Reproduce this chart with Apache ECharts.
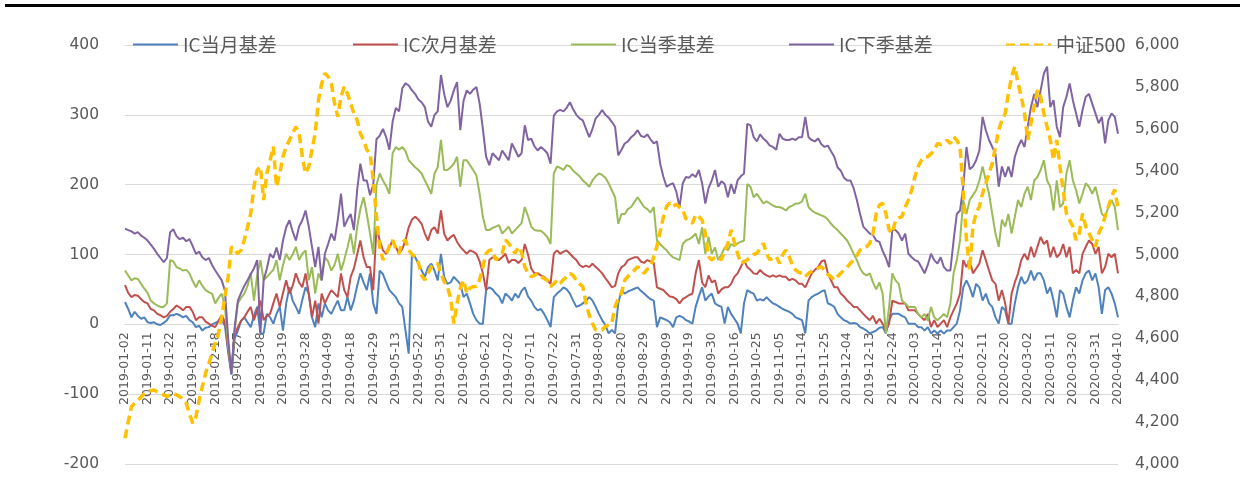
<!DOCTYPE html>
<html>
<head>
<meta charset="utf-8">
<script src="https://cdn.jsdelivr.net/npm/echarts@6/dist/echarts.min.js"></script>
<style>
  html, body { margin: 0; padding: 0; background: #fff; }
  #chart { width: 1244px; height: 482px; }
</style>
</head>
<body>
<div id="chart"></div>
<script>
// Trading calendar: months and the trading days in each
const tradingMonths = ['2019-01','2019-02','2019-03','2019-04','2019-05','2019-06','2019-07','2019-08','2019-09','2019-10','2019-11','2019-12','2020-01','2020-02','2020-03','2020-04'];
const tradingDays = [
  [2,3,4,7,8,9,10,11,14,15,16,17,18,21,22,23,24,25,28,29,30,31],
  [1,11,12,13,14,15,18,19,20,21,22,25,26,27,28],
  [1,4,5,6,7,8,11,12,13,14,15,18,19,20,21,22,25,26,27,28,29],
  [1,2,3,4,8,9,10,11,12,15,16,17,18,19,22,23,24,25,26,29,30],
  [6,7,8,9,10,13,14,15,16,17,20,21,22,23,24,27,28,29,30,31],
  [3,4,5,6,10,11,12,13,14,17,18,19,20,21,24,25,26,27,28],
  [1,2,3,4,5,8,9,10,11,12,15,16,17,18,19,22,23,24,25,26,29,30,31],
  [1,2,5,6,7,8,9,12,13,14,15,16,19,20,21,22,23,26,27,28,29,30],
  [2,3,4,5,6,9,10,11,12,16,17,18,19,20,23,24,25,26,27,30],
  [8,9,10,11,14,15,16,17,18,21,22,23,24,25,28,29,30,31],
  [1,4,5,6,7,8,11,12,13,14,15,18,19,20,21,22,25,26,27,28,29],
  [2,3,4,5,6,9,10,11,12,13,16,17,18,19,20,23,24,25,26,27,30,31],
  [2,3,6,7,8,9,10,13,14,15,16,17,20,21,22,23],
  [3,4,5,6,7,10,11,12,13,14,17,18,19,20,21,24,25,26,27,28],
  [2,3,4,5,6,9,10,11,12,13,16,17,18,19,20,23,24,25,26,27,30,31],
  [1,2,3,7,8,9,10]
];

const seriesNames = ['IC当月基差', 'IC次月基差', 'IC当季基差', 'IC下季基差', '中证500'];

// IC current-month basis
const icMonth = [
  32,22,10,18,12,8,10,3,2,3,
  0,-1,2,6,13,13,15,13,10,12,
  6,3,-4,-2,-9,-5,-4,0,2,4,
  6,-2,-40,-72,-20,-9,5,10,3,-4,
  12,25,-13,-13,15,10,1,15,25,-9,
  30,53,34,25,15,35,53,44,10,-4,
  30,10,30,20,15,25,34,20,20,39,
  20,34,55,73,60,49,73,30,15,77,
  72,60,49,44,39,30,25,-9,-42,101,
  96,87,77,68,82,87,77,63,101,68,
  58,60,68,63,58,39,44,30,15,6,
  1,1,49,53,50,44,40,30,44,40,
  34,44,38,48,53,40,34,25,20,22,
  15,6,-4,39,44,48,53,50,44,34,
  25,27,30,34,39,34,25,15,6,-1,
  -13,-8,-13,30,49,44,47,49,51,53,
  48,44,40,36,34,-4,10,8,6,3,
  -4,10,12,10,6,4,1,25,40,53,
  34,40,44,30,27,25,1,25,15,8,
  1,-13,30,49,46,44,34,36,34,39,
  34,30,28,25,22,20,18,15,10,8,
  6,-13,34,39,42,44,47,49,30,28,
  25,15,10,6,4,1,2,1,-4,-6,
  -9,-13,-11,-9,-5,-4,-13,6,15,15,
  15,12,10,1,1,1,-4,-4,-9,-4,
  -13,-9,-13,-9,-13,-9,-9,-4,1,20,
  53,63,53,39,58,53,34,44,30,25,
  10,1,25,20,1,1,30,53,68,58,
  63,77,63,73,73,63,44,53,34,10,
  49,44,25,10,34,53,44,63,73,77,
  63,73,53,15,49,53,44,30,10
];

// IC next-month basis
const icNextMonth = [
  56,45,39,42,41,36,32,30,22,20,
  15,13,10,12,18,22,27,24,20,25,
  25,18,6,10,10,4,1,-2,-4,5,
  13,3,-35,-68,-15,-4,5,10,18,25,
  6,20,34,6,12,15,30,44,25,45,
  63,44,55,73,60,53,73,44,10,34,
  1,44,30,40,49,44,39,73,49,39,
  68,80,100,120,96,82,82,49,139,120,
  106,101,110,120,111,101,108,120,139,150,
  154,150,144,130,120,135,139,130,163,130,
  120,125,128,118,111,106,101,106,104,101,
  90,73,49,92,96,94,92,96,101,88,
  92,92,88,92,115,100,80,73,73,70,
  68,63,58,101,106,101,104,106,101,96,
  92,85,82,84,82,87,82,78,73,66,
  60,53,55,73,82,85,92,94,96,96,
  90,88,92,90,88,53,51,49,44,40,
  39,36,30,36,39,42,44,73,92,60,
  53,70,60,63,44,50,53,53,58,68,
  73,82,92,82,78,73,72,78,73,70,
  68,70,68,70,68,68,63,65,63,58,
  58,53,63,73,78,82,90,92,73,63,
  53,53,44,40,34,30,25,25,20,15,
  10,6,12,1,8,1,-9,1,34,32,
  30,30,30,20,20,20,15,10,6,15,
  -4,6,-4,1,6,-4,10,20,30,44,
  92,82,92,73,80,87,106,92,77,63,
  58,34,49,30,1,44,60,73,92,101,
  92,111,96,111,125,115,120,96,111,96,
  101,115,96,111,73,78,73,101,111,120,
  115,101,111,73,82,101,96,101,73
];

// IC current-quarter basis
const icQuarter = [
  77,70,63,66,65,58,51,45,34,30,
  27,25,25,30,92,90,82,80,77,78,
  73,62,53,63,55,49,46,44,30,38,
  44,25,-30,-68,-10,30,38,44,55,73,
  34,70,92,63,68,73,78,92,63,85,
  101,92,100,111,92,101,106,63,82,44,
  73,63,96,90,77,85,101,77,92,110,
  130,101,139,165,182,158,130,100,200,216,
  206,198,187,245,254,250,254,248,235,230,
  225,221,216,206,197,187,216,225,264,221,
  221,225,230,240,197,235,235,228,221,213,
  187,154,135,135,138,140,142,130,135,140,
  130,135,140,145,168,155,140,135,134,134,
  130,125,115,216,226,224,221,228,226,220,
  216,212,206,202,197,206,212,216,214,210,
  202,192,182,144,158,158,165,168,175,182,
  175,168,165,160,168,120,115,110,106,100,
  96,94,92,115,120,122,125,130,115,139,
  101,125,101,110,92,100,110,106,115,112,
  116,118,120,201,197,182,187,180,173,176,
  173,170,168,168,166,163,168,170,173,173,
  176,187,168,163,160,158,156,154,150,144,
  139,135,130,125,120,111,101,92,80,73,
  70,73,60,50,60,44,-13,25,73,63,
  58,34,30,25,25,25,15,10,15,5,
  25,10,6,10,15,10,30,73,92,120,
  178,158,178,185,192,206,226,206,187,158,
  130,111,150,140,158,130,154,178,168,187,
  197,178,206,211,221,235,206,197,163,206,
  168,173,216,235,206,192,173,187,202,197,
  187,197,178,158,154,168,178,168,135
];

// IC next-quarter basis
const icNextQuarter = [
  137,135,133,130,132,127,124,120,114,108,
  101,95,89,95,132,136,126,122,124,119,
  122,112,101,104,96,92,95,85,77,70,
  63,48,-20,-71,-5,34,45,55,63,72,
  80,92,-13,63,80,101,95,110,92,120,
  139,149,133,120,140,149,163,140,111,82,
  111,63,101,115,130,120,150,187,140,150,
  158,135,192,230,206,206,185,200,265,270,
  280,268,250,290,310,305,338,345,342,335,
  330,322,318,311,290,283,300,305,357,330,
  311,320,335,347,278,320,335,330,336,340,
  316,280,240,228,245,240,235,249,242,235,
  259,250,240,245,285,264,266,255,249,254,
  250,245,230,299,305,307,305,310,318,308,
  300,295,292,280,268,280,295,300,307,300,
  296,290,283,242,250,259,262,268,272,278,
  270,268,272,265,259,262,230,211,197,200,
  202,190,168,202,211,210,215,211,221,202,
  173,195,206,221,197,205,201,182,201,187,
  206,212,216,287,285,268,262,272,266,262,
  256,254,250,273,266,264,264,266,264,268,
  268,297,268,264,262,266,258,254,256,248,
  240,225,220,210,206,206,195,178,158,140,
  135,130,128,120,118,105,95,82,135,135,
  130,120,130,101,96,92,90,82,73,85,
  101,92,87,96,82,77,77,120,158,163,
  197,254,222,226,235,249,297,278,264,254,
  244,197,226,211,226,211,240,254,264,254,
  283,311,330,311,335,359,369,311,321,283,
  268,311,326,345,321,302,283,307,326,330,
  316,302,288,297,259,292,302,297,273
];

// CSI 500 index close (right axis)
const csi500 = [
  4123,4200,4274,4290,4305,4320,4337,4345,4350,4353,
  4345,4337,4330,4321,4330,4337,4330,4321,4310,4290,
  4240,4194,4226,4305,4370,4433,4480,4528,4580,4624,
  4703,4799,4894,5037,5020,5005,5021,5069,5130,5196,
  5324,5403,5419,5260,5387,5450,5515,5324,5387,5467,
  5515,5546,5578,5610,5578,5467,5387,5419,5500,5578,
  5737,5816,5865,5849,5816,5721,5658,5753,5801,5769,
  5721,5673,5642,5578,5546,5500,5483,5356,5181,5037,
  4974,5000,5040,5069,5030,5005,5060,5069,5021,5000,
  4990,4960,4900,4878,4910,4942,4950,4958,4910,4870,
  4847,4790,4671,4767,4840,4878,4815,4840,4847,4847,
  4880,4940,5005,5020,5021,4974,4990,5005,5069,5053,
  5030,5005,5037,5010,4942,4910,4894,4900,4910,4894,
  4885,4878,4847,4860,4878,4862,4880,4894,4910,4900,
  4878,4860,4847,4767,4710,4671,4640,4640,4640,4656,
  4665,4671,4751,4790,4815,4878,4895,4910,4925,4942,
  4925,4910,4930,4942,4990,5040,5110,5180,5230,5246,
  5228,5240,5225,5212,5170,5160,5149,5190,5180,5165,
  5101,4990,4974,4985,4990,4974,5020,5053,5117,5060,
  5005,4958,4965,4974,4990,5000,5005,5030,5053,5005,
  4974,4985,4990,4958,5000,5021,4990,4950,4926,4915,
  4910,4894,4910,4920,4926,4935,4942,4926,4905,4894,
  4878,4895,4910,4926,4940,4958,4974,4995,5021,5030,
  5037,5053,5101,5196,5236,5244,5196,5117,5101,5165,
  5175,5181,5228,5260,5307,5371,5419,5450,5467,5467,
  5480,5499,5530,5525,5530,5546,5530,5562,5546,5515,
  5300,5069,4926,5133,5200,5228,5292,5340,5387,5435,
  5515,5594,5642,5673,5769,5848,5897,5817,5753,5674,
  5546,5626,5706,5785,5753,5674,5610,5547,5451,5547,
  5419,5307,5196,5165,5133,5069,5101,5196,5133,5101,
  5069,5037,5101,5133,5181,5228,5276,5310,5220
];

// Left axis ticks (basis, points) and right axis ticks (index level)
const basisTicks = { min: -200, max: 400, step: 100 };
const indexTicks = { min: 4000, max: 6000, step: 200 };

const dates = [];
tradingMonths.forEach((m, k) => {
  tradingDays[k].forEach(d => dates.push(m + '-' + String(d).padStart(2, '0')));
});

const colors = ['#4F81BD', '#C0504D', '#9BBB59', '#8064A2', '#FFC000'];
const values = [icMonth, icNextMonth, icQuarter, icNextQuarter, csi500];
const axisFont = 'DejaVu Sans';
const cjkFont = '"Noto Sans CJK SC", "DejaVu Sans", sans-serif';

// plot box geometry
const gridTop = 45, gridBottom = 18, chartHeight = 482;
const plotHeight = chartHeight - gridTop - gridBottom;
// move the category axis up from the bottom edge to the zero line of the left axis
const zeroOffset = -plotHeight * (0 - basisTicks.min) / (basisTicks.max - basisTicks.min);

const series = values.map((arr, k) => ({
  name: seriesNames[k],
  type: 'line',
  yAxisIndex: k === 4 ? 1 : 0,
  data: arr,
  symbol: 'none',
  showSymbol: false,
  smooth: false,
  color: colors[k],
  lineStyle: k === 4
    ? { color: colors[k], width: 3.5, type: [9, 5], cap: 'butt' }
    : { color: colors[k], width: 2 }
}));

const legendLefts = [132, 352, 570, 788, 1005];
const legends = seriesNames.map((n, k) => ({
  left: legendLefts[k],
  top: 35,
  padding: 0,
  itemWidth: 45,
  itemHeight: 12,
  data: [n],
  selectedMode: false,
  itemStyle: { color: 'rgba(0,0,0,0)', borderColor: 'rgba(0,0,0,0)', borderWidth: 0 },
  textStyle: { fontSize: 19, color: '#595959', fontFamily: cjkFont }
}));

const chart = echarts.init(document.getElementById('chart'), null, { renderer: 'canvas' });
chart.setOption({
  animation: false,
  backgroundColor: '#ffffff',
  graphic: [{
    type: 'rect',
    shape: { x: 5, y: 4, width: 1235, height: 3 },
    style: { fill: '#000000' }
  }],
  legend: legends,
  grid: { left: 125, right: 126, top: gridTop, bottom: gridBottom, containLabel: false },
  xAxis: {
    type: 'category',
    data: dates,
    boundaryGap: false,
    position: 'bottom',
    offset: zeroOffset,
    axisLine: { onZero: false, lineStyle: { color: '#d9d9d9', width: 1 } },
    axisTick: { show: false },
    splitLine: { show: false },
    axisLabel: {
      interval: 6,
      rotate: 90,
      margin: 8,
      fontSize: 12.5,
      color: '#595959',
      fontFamily: axisFont
    }
  },
  yAxis: [{
    type: 'value',
    min: basisTicks.min,
    max: basisTicks.max,
    interval: basisTicks.step,
    axisLine: { show: false },
    axisTick: { show: false },
    splitLine: { lineStyle: { color: '#d9d9d9', width: 1 } },
    axisLabel: { margin: 26, fontSize: 15.5, color: '#595959', fontFamily: axisFont }
  }, {
    type: 'value',
    min: indexTicks.min,
    max: indexTicks.max,
    interval: indexTicks.step,
    axisLine: { show: false },
    axisTick: { show: false },
    splitLine: { show: false },
    axisLabel: {
      margin: 17,
      fontSize: 15.5,
      color: '#595959',
      fontFamily: axisFont,
      formatter: v => v.toLocaleString('en-US')
    }
  }],
  series: series
});
</script>
</body>
</html>
